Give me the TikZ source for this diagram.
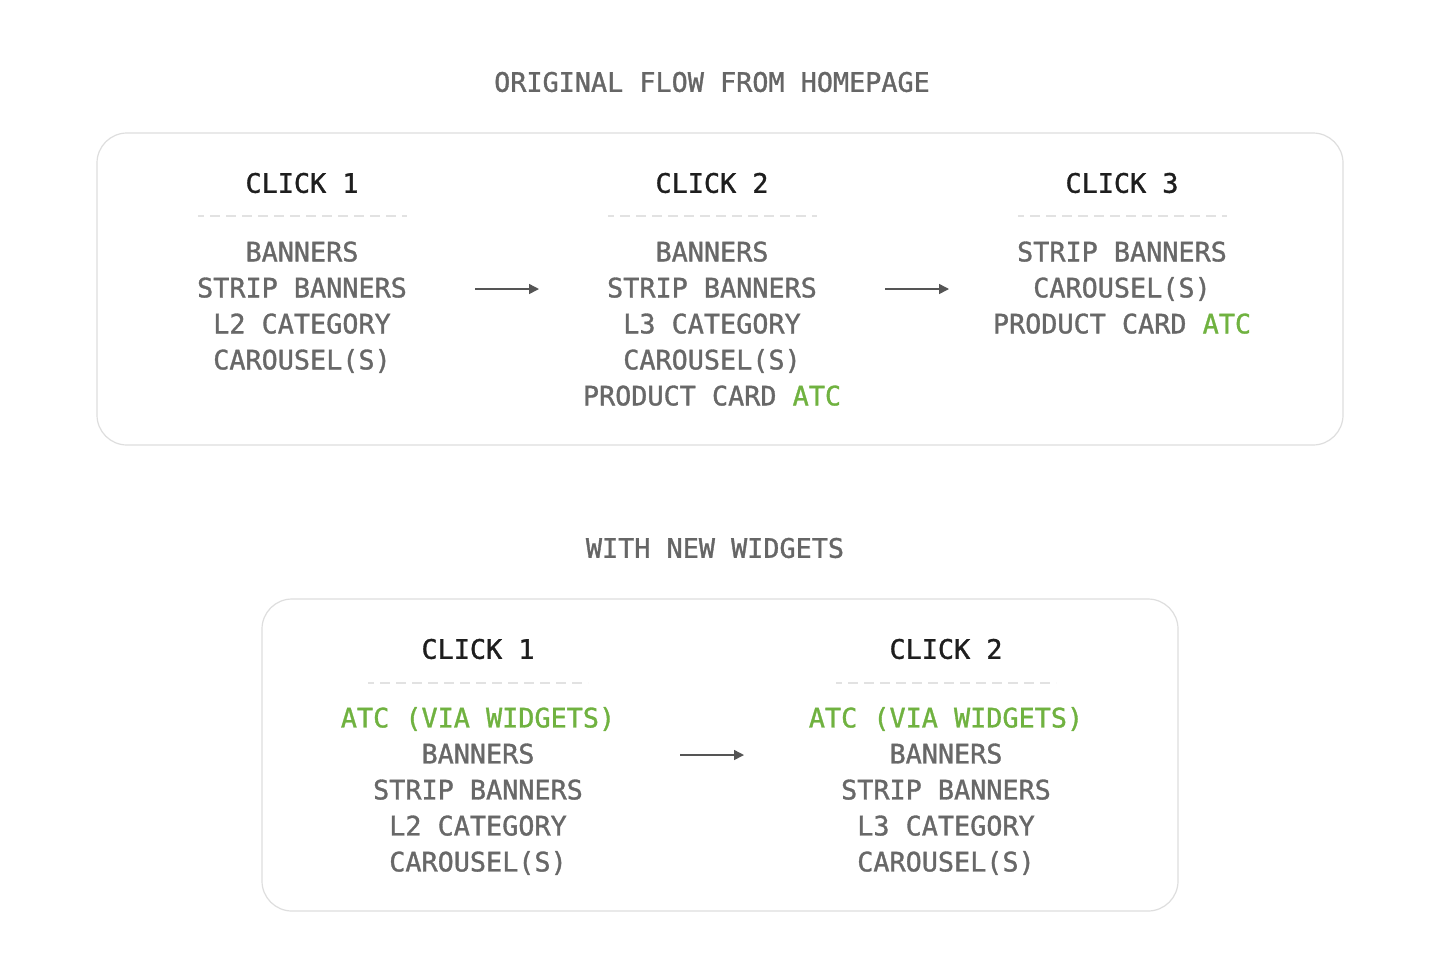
\documentclass[tikz,border=0pt]{standalone}
\usepackage{fontspec}
\setmonofont{DejaVu Sans Mono}[RawFeature={embolden=1.2}]
\usetikzlibrary{arrows.meta}

\tikzset{
    flowtitle/.style={font=\ttfamily\fontsize{13.4}{18}\selectfont, text=titlegray, inner sep=0},
    clickhead/.style={font=\ttfamily\fontsize{13.4}{18}\selectfont, text=headdark, inner sep=0},
    clicklist/.style={font=\ttfamily\fontsize{13.4}{18}\selectfont, text=listgray, align=center, anchor=north, inner sep=0},
    panel/.style={draw=panelgray, line width=0.6pt, rounded corners=15pt, fill=white},
    sepline/.style={draw=sepgray, line width=0.8pt, dash pattern=on 5pt off 3pt, dash phase=2pt},
    flowarrow/.style={draw=arrowgray, line width=0.75pt, -{Triangle[length=5pt,width=5pt]}}
}
\newcommand{\atc}[1]{\textcolor{atcgreen}{#1}}

\begin{document}
\begin{tikzpicture}[x=0.5pt, y=-0.5pt]

    % Colors for text and lines
    \definecolor{titlegray}{RGB}{102,102,102}
    \definecolor{headdark}{RGB}{30,30,30}
    \definecolor{listgray}{RGB}{104,104,104}
    \definecolor{panelgray}{RGB}{222,222,222}
    \definecolor{sepgray}{RGB}{226,226,226}
    \definecolor{arrowgray}{RGB}{85,85,85}
    \definecolor{atcgreen}{RGB}{112,178,64}

    \useasboundingbox[fill=white] (0,0) rectangle (1440,976);

    % Original flow
    \node[flowtitle] (title1) at (712,82) {ORIGINAL FLOW FROM HOMEPAGE};
    \draw[panel] (97,133) rectangle (1343,445);

    \node[clickhead] (head1) at (302,183) {CLICK 1};
    \draw[sepline] (198,216) -- (407,216);
    \node[clicklist] (list1) at (302,235.8) {\strut BANNERS\\STRIP BANNERS\\L2 CATEGORY\\CAROUSEL(S)};

    \node[clickhead] (head2) at (712,183) {CLICK 2};
    \draw[sepline] (608,216) -- (817,216);
    \node[clicklist] (list2) at (712,235.8) {\strut BANNERS\\STRIP BANNERS\\L3 CATEGORY\\CAROUSEL(S)\\PRODUCT CARD \atc{ATC}};

    \node[clickhead] (head3) at (1122,183) {CLICK 3};
    \draw[sepline] (1018,216) -- (1227,216);
    \node[clicklist] (list3) at (1122,235.8) {\strut STRIP BANNERS\\CAROUSEL(S)\\PRODUCT CARD \atc{ATC}};

    \coordinate (a1s) at (475,289);
    \coordinate (a1e) at (539,289);
    \coordinate (a2s) at (885,289);
    \coordinate (a2e) at (949,289);
    \draw[flowarrow] (a1s) -- (a1e);
    \draw[flowarrow] (a2s) -- (a2e);

    % With new widgets
    \node[flowtitle] (title2) at (715,548) {WITH NEW WIDGETS};
    \draw[panel] (262,599) rectangle (1178,911);

    \node[clickhead] (whead1) at (478,649) {CLICK 1};
    \draw[sepline] (368,683) -- (588,683);
    \node[clicklist] (wlist1) at (478,701.8) {\strut\atc{ATC (VIA WIDGETS)}\\BANNERS\\STRIP BANNERS\\L2 CATEGORY\\CAROUSEL(S)};

    \node[clickhead] (whead2) at (946,649) {CLICK 2};
    \draw[sepline] (836,683) -- (1056,683);
    \node[clicklist] (wlist2) at (946,701.8) {\strut\atc{ATC (VIA WIDGETS)}\\BANNERS\\STRIP BANNERS\\L3 CATEGORY\\CAROUSEL(S)};

    \coordinate (b1s) at (680,755);
    \coordinate (b1e) at (744,755);
    \draw[flowarrow] (b1s) -- (b1e);

\end{tikzpicture}
\end{document}
